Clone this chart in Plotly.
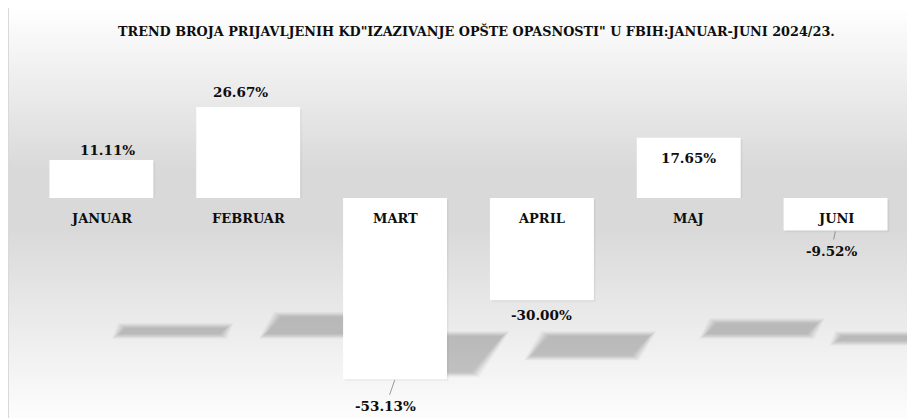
import plotly.graph_objects as go

# ---------------- data ----------------
categories = ["JANUAR", "FEBRUAR", "MART", "APRIL", "MAJ", "JUNI"]
values = [11.11, 26.67, -53.13, -30.00, 17.65, -9.52]
value_labels = ["11.11%", "26.67%", "-53.13%", "-30.00%", "17.65%", "-9.52%"]
title_text = 'TREND BROJA PRIJAVLJENIH KD"IZAZIVANJE OPŠTE OPASNOSTI" U FBIH:JANUAR-JUNI 2024/23.'

# ---------------- layout / style ----------------
OFF = 8  # page body margin: figure drawn at (8, 8) on screen
W, H = 915 - OFF, 418 - OFF
L, R, T, B = 20, 6, 52, 8
PW, PH = W - L - R, H - T - B
N = len(categories)
PX_PER_X = PW / N
ZERO_PX = 198.0 - OFF
K = 3.41  # px per percent
BAR_W = 0.708
FONT = "DejaVu Serif"

# label offsets (px): dx right, dy up, relative to the bar end
label_dx = [6, -8, -9.5, 0, 0, -4.5]
label_dy = [10.5, 15.5, -27, -14.5, -20, -20.5]
leader = [False, False, True, False, False, True]


def xd(px):
    return (px - L) / PX_PER_X - 0.5


def yd(py):
    return (ZERO_PX - py) / K


def xp(px):
    return (px - L) / PW


def yp(py):
    return (H - B - py) / PH


shapes = []

# background gradient of the chart area (paper strips), screen coords minus OFF
stops = [(7 - OFF, 255), (170 - OFF, 217), (228 - OFF, 217), (420 - OFF, 253)]


def grad(py):
    for (a, ca), (b, cb) in zip(stops[:-1], stops[1:]):
        if a <= py <= b:
            return ca + (cb - ca) * (py - a) / (b - a)
    return stops[-1][1]


y = 7.0 - OFF
step = 3.0
while y < H + 5:
    c = int(round(grad(y + step / 2)))
    shapes.append(dict(type="rect", xref="paper", yref="paper",
                       x0=xp(8 - OFF), x1=xp(911 - OFF), y0=yp(y), y1=yp(y + step + 0.6),
                       fillcolor=f"rgb({c},{c},{c})", line=dict(width=0), layer="below"))
    y += step
shapes.append(dict(type="rect", xref="paper", yref="paper",
                   x0=xp(8.5 - OFF), x1=xp(911.5 - OFF), y0=yp(7.5 - OFF), y1=yp(H + 10),
                   fillcolor="rgba(0,0,0,0)", line=dict(color="#d9d9d9", width=1), layer="below"))

# perspective shadows of bars, derived from values (soft edges by stacking)
SH_ZERO = 335.0 - OFF
SH_SCALE = 0.72
SH_SLANT = 0.8
blur_layers = [(6.0, 0.02), (5.0, 0.022), (4.0, 0.024), (3.0, 0.026), (2.0, 0.028),
               (1.0, 0.03), (0.0, 0.035), (-1.5, 0.035)]
for i, v in enumerate(values):
    cx = L + (i + 0.5) * PX_PER_X
    hw = BAR_W * PX_PER_X / 2
    h = abs(v) * SH_SCALE
    if v >= 0:
        dx = 68
        pts = [(cx - hw + dx, SH_ZERO), (cx + hw + dx, SH_ZERO),
               (cx + hw + dx + SH_SLANT * h, SH_ZERO - h), (cx - hw + dx + SH_SLANT * h, SH_ZERO - h)]
    else:
        dx = 57
        pts = [(cx - hw + dx, SH_ZERO), (cx + hw + dx, SH_ZERO),
               (cx + hw + dx - SH_SLANT * h, SH_ZERO + h), (cx - hw + dx - SH_SLANT * h, SH_ZERO + h)]
    ccx = sum(p[0] for p in pts) / 4
    ccy = sum(p[1] for p in pts) / 4
    for e, a in blur_layers:
        ey = e * 0.7
        q = []
        for (px_, py_) in pts:
            nx = px_ + (e if px_ > ccx else -e)
            ny = py_ + (ey if py_ > ccy else -ey)
            if abs(ny - ccy) < 0.3:
                ny = ccy + (0.3 if py_ > ccy else -0.3)
            q.append((nx, ny))
        path = "M " + " L ".join(f"{xd(a_):.4f},{yd(b_):.4f}" for a_, b_ in q) + " Z"
        shapes.append(dict(type="path", xref="x", yref="y", path=path,
                           fillcolor=f"rgba(0,0,0,{a})", line=dict(width=0), layer="below"))

# very faint outer shadow for bars
for i, v in enumerate(values):
    for off, a in [(2.0, 0.025), (1.0, 0.035)]:
        shapes.append(dict(type="rect", xref="x", yref="y",
                           x0=i - BAR_W / 2 + off / PX_PER_X, x1=i + BAR_W / 2 + off / PX_PER_X,
                           y0=-off / K if v < 0 else 0, y1=v - off / K,
                           fillcolor=f"rgba(0,0,0,{a})", line=dict(width=0), layer="below"))

fig = go.Figure()
fig.add_trace(go.Bar(
    x=list(range(N)), y=values, width=BAR_W,
    marker=dict(color="#ffffff", line=dict(width=0)),
    hovertext=[f"{c}: {t}" for c, t in zip(categories, value_labels)],
    hoverinfo="text",
))

annotations = []
annotations.append(dict(xref="paper", yref="paper", x=xp(476.5 - OFF), y=yp(31 - OFF),
                        text=title_text, showarrow=False, xanchor="center", yanchor="middle",
                        font=dict(family=FONT, size=12.8, color="#0d0d0d", weight="bold")))

for i, c in enumerate(categories):
    annotations.append(dict(x=i, y=0, xref="x", yref="y", text=c, showarrow=False,
                            xanchor="center", yanchor="middle", yshift=-20,
                            font=dict(family=FONT, size=13, color="#0d0d0d", weight="bold")))

for i, (v, t) in enumerate(zip(values, value_labels)):
    f = dict(family=FONT, size=13.5, color="#0d0d0d", weight="bold")
    if leader[i]:
        annotations.append(dict(x=i, y=v, xref="x", yref="y", text=t, showarrow=True,
                                ax=label_dx[i], ay=-label_dy[i], arrowhead=0, arrowwidth=0.8,
                                arrowcolor="#7f7f7f", standoff=1, startstandoff=2, font=f))
    else:
        annotations.append(dict(x=i, y=v, xref="x", yref="y", text=t, showarrow=False,
                                xanchor="center", yanchor="middle",
                                xshift=label_dx[i], yshift=label_dy[i], font=f))

fig.update_layout(
    width=W, height=H,
    margin=dict(l=L, r=R, t=T, b=B, pad=0),
    paper_bgcolor="#ffffff", plot_bgcolor="rgba(0,0,0,0)",
    showlegend=False,
    bargap=1 - BAR_W,
    xaxis=dict(range=[-0.5, N - 0.5], showgrid=False, zeroline=False, showticklabels=False,
               showline=False, ticks="", fixedrange=True),
    yaxis=dict(range=[yd(H - B), yd(T)], showgrid=False, zeroline=False, showticklabels=False,
               showline=False, ticks="", fixedrange=True),
    shapes=shapes,
    annotations=annotations,
)

fig.write_html("out.html")
